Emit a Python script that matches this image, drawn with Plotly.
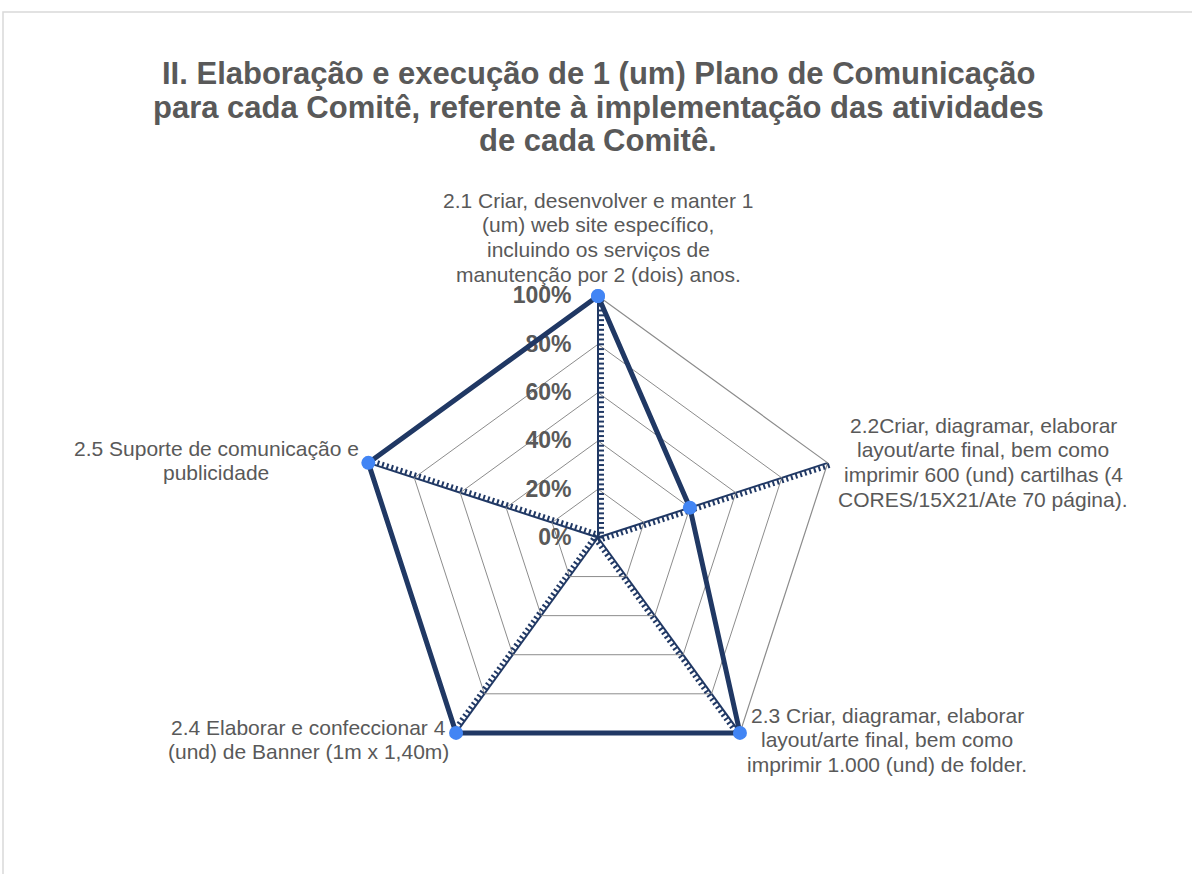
import plotly.graph_objects as go

# ---- data ----
categories = [
    "2.1 Criar, desenvolver e manter 1<br>(um) web site específico,<br>incluindo os serviços de<br>manutenção por 2 (dois) anos.",
    "2.2Criar, diagramar, elaborar<br>layout/arte final, bem como<br>imprimir 600 (und) cartilhas (4<br>CORES/15X21/Ate 70 página).",
    "2.3 Criar, diagramar, elaborar<br>layout/arte final, bem como<br>imprimir 1.000 (und) de folder.",
    "2.4 Elaborar e confeccionar 4<br>(und) de Banner (1m x 1,40m)",
    "2.5 Suporte de comunicação e<br>publicidade",
]
values = [1.00, 0.40, 1.00, 1.00, 1.00]
radial_ticks = [0, 0.2, 0.4, 0.6, 0.8, 1.0]
radial_ticktext = ["0%", "20%", "40%", "60%", "80%", "100%"]
minor_step = 0.02

title_lines = [
    "II. Elaboração e execução de 1 (um) Plano de Comunicação",
    "para cada Comitê, referente à implementação das atividades",
    "de cada Comitê.",
]

# ---- styling / layout ----
NAVY = "#203864"
GREY_TXT = "#595959"
GRID_GREY = "#8C8C8C"
FONT = "Liberation Sans, Arial, sans-serif"

W, H = 1192, 874
cx, cy, R = 598, 537.5, 241.5
title_y = [73, 107, 141]
# category label block: centre x, first line centre y (pixels)
label_pos = [(598, 200), (983, 425), (887, 715), (308, 727), (216, 448)]
label_line_gap = 24.7

def px(x):
    return x / W

def py(y):
    return 1 - y / H

def dom(rad):
    return dict(x=[px(cx - rad), px(cx + rad)], y=[py(cy + rad), py(cy - rad)])

spoke_angles = [90 - 72 * k for k in range(len(categories))]

fig = go.Figure()
layout_polars = {}

# main polar: grid, spokes, radial labels
layout_polars["polar"] = dict(
    domain=dom(R),
    bgcolor="white",
    gridshape="linear",
    radialaxis=dict(
        range=[0, 1],
        angle=90,
        side="counterclockwise",
        tickangle=90,
        tickvals=radial_ticks,
        ticktext=radial_ticktext,
        tickfont=dict(size=23, color=GREY_TXT, family=FONT, weight="bold"),
        ticks="outside", ticklen=18, tickcolor="rgba(0,0,0,0)",
        showline=False,
        gridcolor=GRID_GREY, gridwidth=1.2,
    ),
    angularaxis=dict(
        type="category",
        categoryarray=categories,
        rotation=90,
        direction="clockwise",
        showticklabels=False,
        ticks="",
        showline=True, linecolor=GRID_GREY, linewidth=1.2,
        gridcolor=NAVY, gridwidth=2,
    ),
)
fig.add_trace(go.Scatterpolar(r=[], theta=[], subplot="polar",
                              showlegend=False, hoverinfo="skip"))

# tick-mark polars, one per spoke
for k, ang in enumerate(spoke_angles):
    name = f"polar{k + 2}"
    layout_polars[name] = dict(
        domain=dom(R),
        bgcolor="rgba(0,0,0,0)",
        gridshape="linear",
        radialaxis=dict(
            range=[0, 1], angle=ang, side="clockwise",
            tick0=0, dtick=minor_step,
            ticks="outside", ticklen=5, tickwidth=1.5, tickcolor=NAVY,
            showticklabels=False, showgrid=False,
            showline=(k == 0), linecolor=NAVY, linewidth=2,
        ),
        angularaxis=dict(visible=False, rotation=90, direction="clockwise"),
    )
    fig.add_trace(go.Scatterpolar(r=[], theta=[], subplot=name,
                                  showlegend=False, hoverinfo="skip"))

# data polar on top (slightly larger range so edge lines are not clipped)
pad = 1.06
data_polar = f"polar{len(categories) + 2}"
layout_polars[data_polar] = dict(
    domain=dom(R * pad),
    bgcolor="rgba(0,0,0,0)",
    gridshape="linear",
    radialaxis=dict(range=[0, pad], visible=False),
    angularaxis=dict(type="category", categoryarray=categories,
                     visible=False, rotation=90, direction="clockwise"),
)
fig.add_trace(go.Scatterpolar(
    r=values + values[:1],
    theta=categories + categories[:1],
    subplot=data_polar,
    mode="lines+markers",
    cliponaxis=False,
    line=dict(color=NAVY, width=5),
    marker=dict(color="#4285F4", size=14),
    showlegend=False,
))

annotations = []
for line, yy in zip(title_lines, title_y):
    annotations.append(dict(
        text=line, x=px(598), y=py(yy), xref="paper", yref="paper",
        xanchor="center", yanchor="middle", showarrow=False,
        font=dict(size=31, color=GREY_TXT, family=FONT, weight="bold"),
    ))
for cat, (lx, ly) in zip(categories, label_pos):
    for i, line in enumerate(cat.split("<br>")):
        annotations.append(dict(
            text=line, x=px(lx), y=py(ly + i * label_line_gap),
            xref="paper", yref="paper",
            xanchor="center", yanchor="middle", showarrow=False,
            font=dict(size=21, color=GREY_TXT, family=FONT),
        ))

fig.update_layout(
    width=W, height=H,
    margin=dict(l=0, r=0, t=0, b=0),
    paper_bgcolor="white",
    plot_bgcolor="white",
    font=dict(family=FONT, color=GREY_TXT),
    annotations=annotations,
    shapes=[dict(type="rect", xref="paper", yref="paper",
                 x0=px(3), x1=1.01, y0=-0.01, y1=py(12),
                 line=dict(color="#D9D9D9", width=1.5), layer="below")],
    **layout_polars,
)

fig.write_html("out.html", config={"displayModeBar": False},
               post_script="document.body.style.margin='0';")
